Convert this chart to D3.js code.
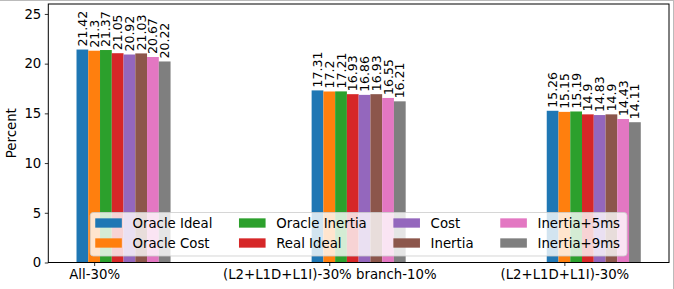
<!DOCTYPE html>
<html>
<head>
<meta charset="utf-8">
<script src="https://cdn.jsdelivr.net/npm/d3@7"></script>
<style>
  body { margin: 0; background: #fff; }
  svg { display: block; font-family: "DejaVu Sans", sans-serif; }
</style>
</head>
<body>
<svg id="chart" width="674" height="289"></svg>
<script>
// groups on the x axis
const groups = ["All-30%", "(L2+L1D+L1I)-30% branch-10%", "(L2+L1D+L1I)-30%"];
// series (legend order)
const series = ["Oracle Ideal", "Oracle Cost", "Oracle Inertia", "Real Ideal", "Cost", "Inertia", "Inertia+5ms", "Inertia+9ms"];
const colors = ["#1f77b4", "#ff7f0e", "#2ca02c", "#d62728", "#9467bd", "#8c564b", "#e377c2", "#7f7f7f"];
// values per series, one per group
const oracleIdeal   = [21.42, 17.31, 15.26];
const oracleCost    = [21.3, 17.2, 15.15];
const oracleInertia = [21.37, 17.21, 15.19];
const realIdeal     = [21.05, 16.93, 14.9];
const cost          = [20.92, 16.86, 14.83];
const inertia       = [21.03, 16.93, 14.9];
const inertia5      = [20.67, 16.55, 14.43];
const inertia9      = [20.22, 16.21, 14.11];
const yTicks = [0, 5, 10, 15, 20, 25];

const values = [oracleIdeal, oracleCost, oracleInertia, realIdeal, cost, inertia, inertia5, inertia9];

const svg = d3.select("#chart");
const fs = 13.3;
const m = { left: 48.3, right: 669, top: 4, bottom: 262.5 };
const barW = 0.05;

// figure edge (top/right grey line)
svg.append("line").attr("x1", 0).attr("x2", 674).attr("y1", 0.5).attr("y2", 0.5).attr("stroke", "#bbb");
svg.append("line").attr("x1", 673.5).attr("x2", 673.5).attr("y1", 0).attr("y2", 289).attr("stroke", "#bbb");

const x = d3.scaleLinear().domain([-0.195, 2.445]).range([m.left, m.right]);
const y = d3.scaleLinear().domain([0, 26]).range([m.bottom, m.top]);

// bars
const bars = [];
values.forEach((vals, i) => {
  vals.forEach((v, g) => bars.push({ s: i, g: g, v: v, cx: g + (i - 1) * barW }));
});

svg.append("g").selectAll("rect")
  .data(bars)
  .enter().append("rect")
    .attr("x", d => x(d.cx - barW / 2))
    .attr("width", d => x(d.cx + barW / 2) - x(d.cx - barW / 2))
    .attr("y", d => y(d.v))
    .attr("height", d => y(0) - y(d.v))
    .attr("fill", d => colors[d.s]);

// value labels, rotated
svg.append("g").selectAll("text")
  .data(bars)
  .enter().append("text")
    .attr("transform", d => `translate(${x(d.cx)},${y(d.v) - 3}) rotate(-90)`)
    .attr("dominant-baseline", "central")
    .style("font-size", "12.5px")
    .text(d => d.v);

// axes
const xAxis = svg.append("g")
  .attr("transform", `translate(0,${m.bottom})`)
  .call(d3.axisBottom(x).tickValues([0, 1, 2]).tickFormat(i => groups[i]).tickSizeOuter(0).tickSize(3.5).tickPadding(3.5));
const yAxis = svg.append("g")
  .attr("transform", `translate(${m.left},0)`)
  .call(d3.axisLeft(y).tickValues(yTicks).tickSizeOuter(0).tickSize(3.5).tickPadding(3.5));
[xAxis, yAxis].forEach(a => {
  a.selectAll("text").style("font-size", fs + "px").attr("fill", "#000").style("font-family", "DejaVu Sans");
  a.selectAll("line").attr("stroke", "#000").attr("stroke-width", 0.8);
  a.select(".domain").remove();
});

// frame
svg.append("rect")
  .attr("x", m.left).attr("y", m.top)
  .attr("width", m.right - m.left).attr("height", m.bottom - m.top)
  .attr("fill", "none").attr("stroke", "#000").attr("stroke-width", 1);

// y label
svg.append("text")
  .attr("transform", `translate(11,${(m.top + m.bottom) / 2}) rotate(-90)`)
  .attr("text-anchor", "middle")
  .attr("dominant-baseline", "central")
  .style("font-size", fs + "px")
  .text("Percent");

// legend, lower center, 4 columns
const ncol = 4, nrow = 2;
const leg = svg.append("g");
const meas = leg.append("text").style("font-size", fs + "px");
const tw = series.map(s => { meas.text(s); return meas.node().getComputedTextLength(); });
meas.remove();
const handleL = 2 * fs, pad = 0.8 * fs, colSp = 2 * fs, rowH = 20;
const colW = d3.range(ncol).map(c => d3.max(d3.range(nrow), r => tw[c * nrow + r]) + handleL + pad);
const legW = d3.sum(colW) + colSp * (ncol - 1) + 12;
const legH = nrow * rowH + 3.5;
const lx = (m.left + m.right) / 2 - legW / 2;
const ly = m.bottom - 6.5 - legH;
leg.append("rect")
  .attr("x", lx).attr("y", ly).attr("width", legW).attr("height", legH)
  .attr("rx", 3)
  .attr("fill", "#fff").attr("fill-opacity", 0.8)
  .attr("stroke", "#ccc").attr("stroke-opacity", 0.8);
let cx0 = lx + 5;
d3.range(ncol).forEach(c => {
  d3.range(nrow).forEach(r => {
    const i = c * nrow + r;
    const cy = ly + 10.5 + rowH * r;
    leg.append("rect")
      .attr("x", cx0).attr("y", cy - 0.35 * fs)
      .attr("width", handleL).attr("height", 0.7 * fs)
      .attr("fill", colors[i]);
    leg.append("text")
      .attr("x", cx0 + handleL + pad).attr("y", cy)
      .attr("dominant-baseline", "central")
      .style("font-size", fs + "px")
      .text(series[i]);
  });
  cx0 += colW[c] + colSp;
});
</script>
</body>
</html>
